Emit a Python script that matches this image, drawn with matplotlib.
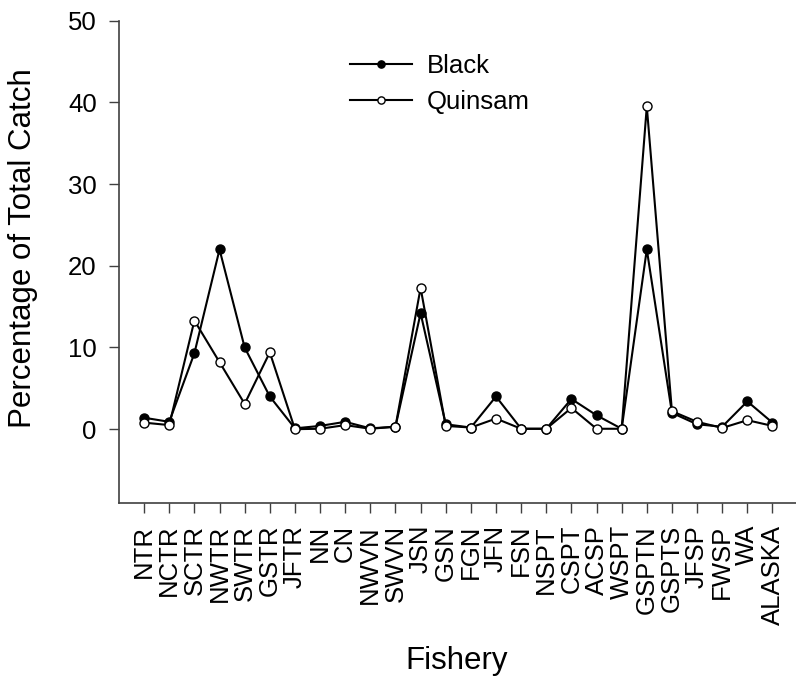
import numpy as np
import matplotlib
matplotlib.use('Agg')
import matplotlib.pyplot as plt

plt.rcParams['font.family'] = ['Liberation Sans', 'DejaVu Sans']

# Pesquerías y porcentaje de la captura total por stock
fisheries = ['NTR', 'NCTR', 'SCTR', 'NWTR', 'SWTR', 'GSTR', 'JFTR', 'NN', 'CN',
             'NWVN', 'SWVN', 'JSN', 'GSN', 'FGN', 'JFN', 'FSN', 'NSPT', 'CSPT',
             'ACSP', 'WSPT', 'GSPTN', 'GSPTS', 'JFSP', 'FWSP', 'WA', 'ALASKA']
black = [1.4, 0.9, 9.3, 22.0, 10.0, 4.0, 0.1, 0.4, 0.9, 0.1, 0.3, 14.2, 0.6,
         0.2, 4.0, 0.05, 0.05, 3.7, 1.7, 0.05, 22.0, 2.0, 0.6, 0.3, 3.4, 0.8]
quinsam = [0.8, 0.5, 13.3, 8.2, 3.1, 9.4, 0.0, 0.05, 0.5, 0.05, 0.3, 17.3, 0.4,
           0.2, 1.3, 0.05, 0.05, 2.6, 0.05, 0.05, 39.5, 2.2, 0.9, 0.15, 1.1, 0.4]

x = np.arange(1, len(fisheries) + 1)

fig = plt.figure(figsize=(7.96, 6.82), dpi=100)
ax = fig.add_axes([119 / 796, 1 - 502.7 / 682, 1 - 119 / 796 + 0.002, (502.7 - 20.7) / 682])

ax.plot(x, black, color='black', lw=1.5, marker='o', ms=6.5,
        mfc='black', mec='black', mew=1.0, label='Black', zorder=3)
ax.plot(x, quinsam, color='black', lw=1.5, marker='o', ms=6.5,
        mfc='white', mec='black', mew=1.0, label='Quinsam', zorder=4)

ax.set_xlim(0, 27)
ax.set_ylim(-9, 50)
ax.set_yticks([0, 10, 20, 30, 40, 50])
ax.set_xticks(x)
ax.set_xticklabels(fisheries, rotation=90, fontsize=18.5)
ax.tick_params(axis='y', labelsize=18.5)
ax.tick_params(direction='out', length=7, width=1.0, color='#404040', pad=9)

for side in ['top', 'right']:
    ax.spines[side].set_visible(False)
for side in ['left', 'bottom']:
    ax.spines[side].set_color('#404040')
    ax.spines[side].set_linewidth(1.2)

fig.text(23 / 796, 1 - 248 / 682, 'Percentage of Total Catch', rotation=90,
         fontsize=22.5, ha='center', va='center')
fig.text(457 / 796, 1 - 661 / 682, 'Fishery', fontsize=22.5, ha='center', va='center')

leg = ax.legend(loc='upper left', bbox_to_anchor=(350 / 796, 1 - 54 / 682),
                bbox_transform=fig.transFigure, frameon=False, fontsize=18.5,
                handlelength=2.4, handletextpad=0.6, labelspacing=0.45,
                borderpad=0, borderaxespad=0, markerscale=0.8)

fig.savefig('out.png', dpi=100)
